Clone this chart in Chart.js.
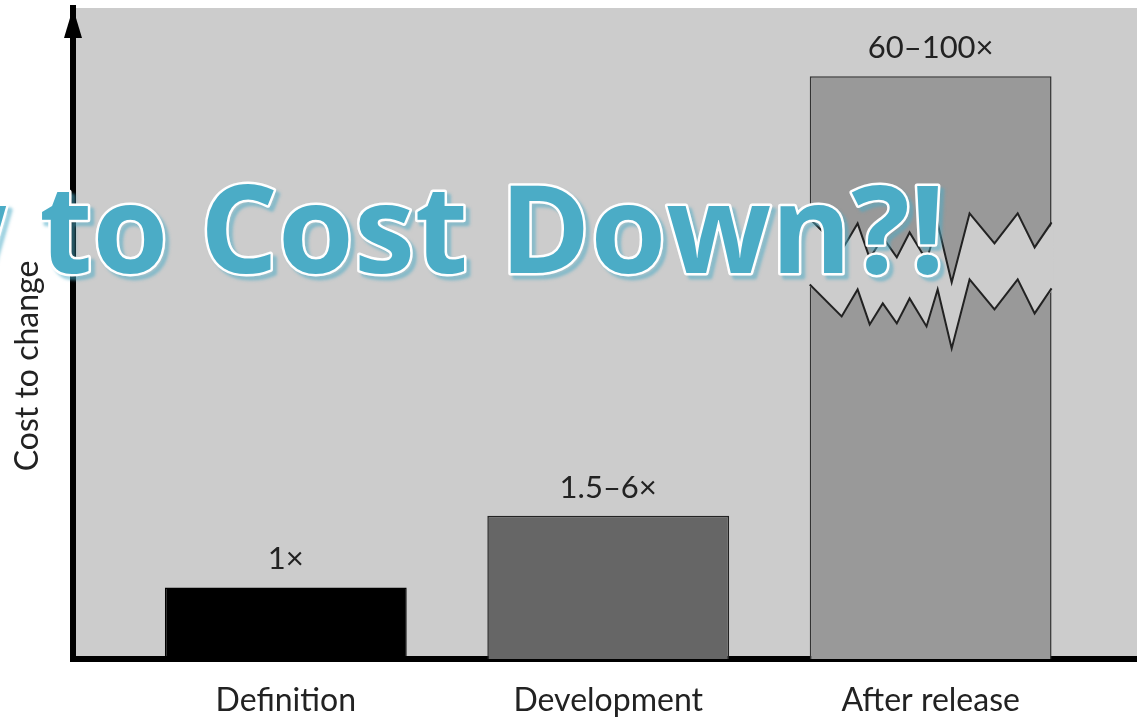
<!DOCTYPE html>
<html>
<head>
<meta charset="utf-8">
<script src="https://cdn.jsdelivr.net/npm/chart.js@4.4.1/dist/chart.umd.min.js"></script>
<style>
    html, body { margin: 0; padding: 0; background: #ffffff; overflow: hidden; }
    #wrap { width: 1137px; height: 722px; }
</style>
</head>
<body>
<div id="wrap"><canvas id="costChart" width="1137" height="722"></canvas></div>
<script>
// Chart data
const categories = ['Definition', 'Development', 'After release'];
const costValues = [11, 22, 89.5];
const costLabels = ['1\u00d7', '1.5\u20136\u00d7', '60\u2013100\u00d7'];
const barColors = ['#000000', '#666666', '#999999'];
const barBorders = ['#000000', '#222222', '#333333'];
const yTitle = 'Cost to change';
const overlayTitle = 'How to Cost Down?!';

// value on the y scale where the "After release" bar is broken
const breakValue = 58;

const textColor = '#222222';
const labelFont = "Lato, 'Open Sans', sans-serif";

/**
 * Gray plot background
 */
const backgroundPlugin = {
    id: 'plotBackground',
    beforeDraw(chart) {
        const { ctx, chartArea } = chart;
        ctx.save();
        ctx.fillStyle = '#cccccc';
        ctx.fillRect(chartArea.left, chartArea.top, chartArea.right - chartArea.left, chartArea.bottom - chartArea.top);
        ctx.restore();
    }
};

/**
 * Break in the tall bar, value labels, axis arrow, y title and overlay text
 */
const decorationsPlugin = {
    id: 'decorations',
    afterDatasetsDraw(chart) {
        const { ctx, chartArea, scales } = chart;
        const bars = chart.getDatasetMeta(0).data;

        // zigzag break on the last bar
        const bar = bars[bars.length - 1];
        const left = bar.x - bar.width / 2;
        const w = bar.width;
        const yc = scales.y.getPixelForValue(breakValue);
        const gap = 66;
        const zig = [[0, 3], [0.132, 35], [0.198, 8], [0.248, 43], [0.302, 22], [0.36, 42], [0.413, 17],
            [0.483, 45], [0.529, 8], [0.587, 67], [0.661, -2], [0.764, 28], [0.86, -2], [0.93, 32], [1, 7]];
        ctx.save();
        ctx.beginPath();
        zig.forEach(([fx, dy], i) => {
            const px = left + fx * w + (i === 0 ? -2 : 0) + (i === zig.length - 1 ? 2 : 0);
            if (i === 0) ctx.moveTo(px, yc + dy - gap); else ctx.lineTo(px, yc + dy - gap);
        });
        for (let i = zig.length - 1; i >= 0; i--) {
            const px = left + zig[i][0] * w + (i === 0 ? -2 : 0) + (i === zig.length - 1 ? 2 : 0);
            ctx.lineTo(px, yc + zig[i][1]);
        }
        ctx.closePath();
        ctx.fillStyle = '#cccccc';
        ctx.fill();
        ctx.strokeStyle = '#222222';
        ctx.lineWidth = 2;
        ctx.lineJoin = 'miter';
        [-gap, 0].forEach(off => {
            ctx.beginPath();
            zig.forEach(([fx, dy], i) => {
                if (i === 0) ctx.moveTo(left + fx * w, yc + dy + off); else ctx.lineTo(left + fx * w, yc + dy + off);
            });
            ctx.stroke();
        });
        ctx.restore();

        // labels above bars
        ctx.save();
        ctx.fillStyle = textColor;
        ctx.font = '31px ' + labelFont;
        ctx.textAlign = 'center';
        ctx.textBaseline = 'middle';
        bars.forEach((b, i) => {
            ctx.fillText(costLabels[i], b.x, b.y - 28);
        });
        ctx.restore();

        // arrow head on the y axis
        ctx.save();
        ctx.fillStyle = '#000000';
        ctx.beginPath();
        ctx.moveTo(chartArea.left, chartArea.top);
        ctx.lineTo(chartArea.left - 9, chartArea.top + 30);
        ctx.lineTo(chartArea.left + 9, chartArea.top + 30);
        ctx.closePath();
        ctx.fill();
        ctx.restore();

        // y axis title
        ctx.save();
        ctx.translate(28, 366);
        ctx.rotate(-Math.PI / 2);
        ctx.fillStyle = textColor;
        ctx.font = '32px ' + labelFont;
        ctx.textAlign = 'center';
        ctx.textBaseline = 'middle';
        ctx.fillText(yTitle, 0, 0);
        ctx.restore();
    },
    afterDraw(chart) {
        const { ctx } = chart;
        ctx.save();
        // size the overlay so "Cost Down?!" spans the same width as in the slide
        let size = 130;
        ctx.font = 'bold ' + size + "px 'Open Sans', 'Noto Sans', sans-serif";
        const part = ctx.measureText('Cost Down?!').width;
        size = size * 745 / part;
        ctx.font = 'bold ' + size + "px 'Open Sans', 'Noto Sans', sans-serif";
        ctx.textAlign = 'right';
        ctx.textBaseline = 'alphabetic';
        const x = 945, y = 273;
        ctx.lineJoin = 'round';
        ctx.shadowColor = 'rgba(75, 172, 198, 0.55)';
        ctx.shadowOffsetX = 4;
        ctx.shadowOffsetY = 4;
        ctx.shadowBlur = 3;
        ctx.strokeStyle = '#ffffff';
        ctx.lineWidth = 5;
        ctx.strokeText(overlayTitle, x, y);
        ctx.shadowColor = 'transparent';
        ctx.fillStyle = '#4bacc6';
        ctx.fillText(overlayTitle, x, y);
        ctx.restore();
    }
};

new Chart(document.getElementById('costChart'), {
    type: 'bar',
    data: {
        datasets: [{
            data: costValues.map((v, i) => ({ x: i, y: v })),
            backgroundColor: barColors,
            borderColor: barBorders,
            borderWidth: 1.5,
            categoryPercentage: 1,
            barPercentage: 0.75
        }]
    },
    options: {
        responsive: false,
        animation: false,
        devicePixelRatio: 1,
        layout: { padding: { top: 8, right: 0, left: 0, bottom: 0 } },
        plugins: {
            legend: { display: false },
            tooltip: { enabled: false }
        },
        scales: {
            x: {
                type: 'linear',
                min: -0.66,
                max: 2.64,
                offset: false,
                bounds: 'ticks',
                grid: { display: false, offset: false },
                border: { display: true, color: '#000000', width: 6 },
                afterBuildTicks: axis => { axis.ticks = categories.map((c, i) => ({ value: i })); },
                afterFit: axis => { axis.height = 63; },
                ticks: {
                    color: textColor,
                    font: { family: labelFont, size: 32 },
                    padding: 14,
                    maxRotation: 0,
                    autoSkip: false,
                    callback: value => categories[value]
                }
            },
            y: {
                min: 0,
                max: 100,
                grid: { display: false },
                border: { display: true, color: '#000000', width: 6 },
                afterFit: axis => { axis.width = 73; },
                ticks: { display: false }
            }
        }
    },
    plugins: [backgroundPlugin, decorationsPlugin]
});
</script>
</body>
</html>
